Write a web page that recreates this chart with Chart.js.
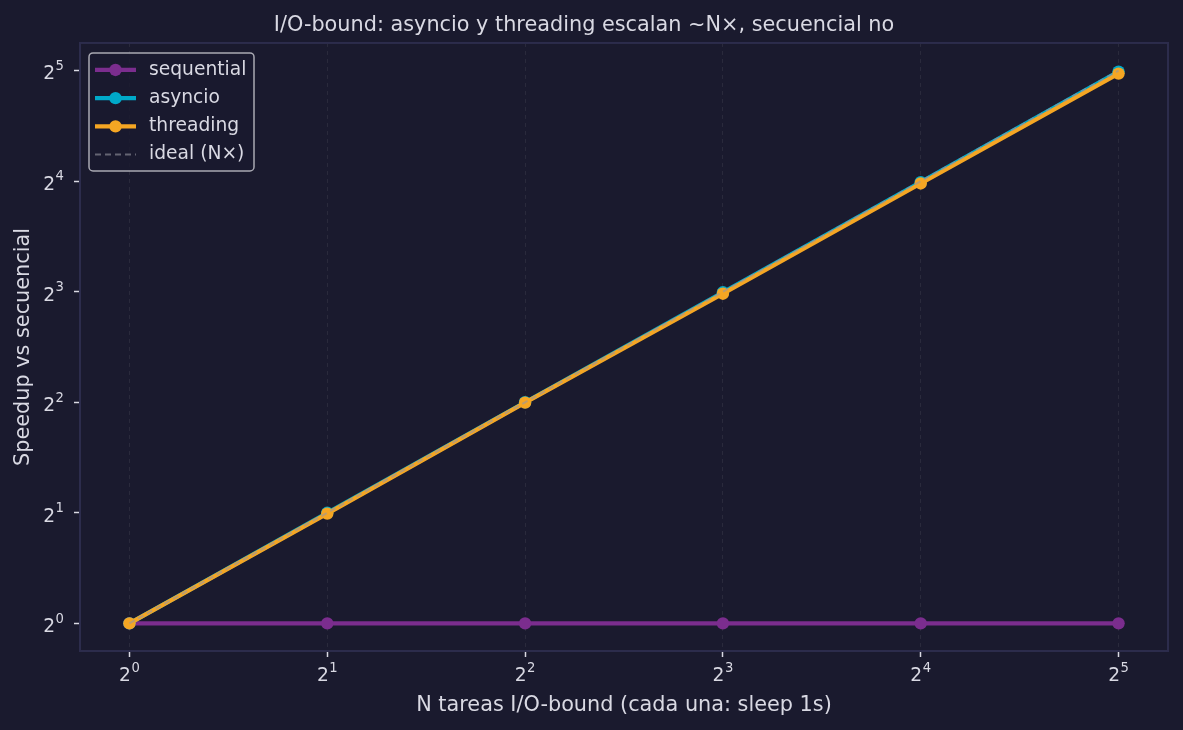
<!DOCTYPE html>
<html>
<head>
<meta charset="utf-8">
<script src="https://cdn.jsdelivr.net/npm/chart.js@4.4.1/dist/chart.umd.min.js"></script>
<style>
  html, body { margin: 0; padding: 0; background: #1a1a2e; }
  canvas { display: block; }
</style>
</head>
<body>
<canvas id="speedChart" width="1183" height="730"></canvas>
<script>
// ===== data =====
const nTasks = [1, 2, 4, 8, 16, 32];
const sequential = [1, 1, 1, 1, 1, 1];
const asyncioSpeedup = [1, 2.0, 4.0, 7.97, 15.9, 31.8];
const threadingSpeedup = [1, 1.99, 3.99, 7.9, 15.77, 31.4];
const idealSpeedup = [1, 2, 4, 8, 16, 32];
const tickValues = [1, 2, 4, 8, 16, 32];

const BG = "#1a1a2e";
const TEXT = "#d9d9e3";
const SPINE = "#2c2c4c";
const FONT = "'DejaVu Sans', sans-serif";

const toPoints = ys => nTasks.map((n, i) => ({ x: n, y: ys[i] }));

// fixed power-of-two ticks
const fixTicks = scale => { scale.ticks = tickValues.map(v => ({ value: v })); };

// background + frame
const framePlugin = {
  id: "frame",
  beforeDraw(chart) {
    const { ctx } = chart;
    ctx.save();
    ctx.fillStyle = BG;
    ctx.fillRect(0, 0, chart.width, chart.height);
    ctx.restore();
  },
  afterDatasetsDraw(chart) {
    const { ctx, chartArea: a } = chart;
    ctx.save();
    ctx.strokeStyle = SPINE;
    ctx.lineWidth = 2;
    ctx.strokeRect(a.left, a.top, a.right - a.left, a.bottom - a.top);
    ctx.restore();
  }
};

// 2^n tick labels with a real raised exponent (like mathtext)
function drawPow(ctx, v, x, baseY, align) {
  const exp = String(Math.round(Math.log2(v)));
  ctx.font = `18.7px ${FONT}`;
  const wb = ctx.measureText("2").width;
  ctx.font = `13.2px ${FONT}`;
  const we = ctx.measureText(exp).width;
  const total = wb + we + 0.5;
  let left = align === "center" ? x - total / 2 : x - total;
  ctx.textAlign = "left";
  ctx.textBaseline = "alphabetic";
  ctx.font = `18.7px ${FONT}`;
  ctx.fillText("2", left, baseY);
  ctx.font = `13.2px ${FONT}`;
  ctx.fillText(exp, left + wb + 0.5, baseY - 9.5);
}

const powTickPlugin = {
  id: "powTicks",
  afterDraw(chart) {
    const { ctx, scales } = chart;
    ctx.save();
    ctx.fillStyle = TEXT;
    scales.x.ticks.forEach(t => {
      const px = scales.x.getPixelForValue(t.value);
      drawPow(ctx, t.value, px, scales.x.top + 30, "center");
    });
    scales.y.ticks.forEach(t => {
      const py = scales.y.getPixelForValue(t.value);
      drawPow(ctx, t.value, scales.y.right - 16, py + 8.8, "right");
    });
    ctx.restore();
  }
};

// matplotlib-like legend box in the upper left
const legendPlugin = {
  id: "boxLegend",
  afterDraw(chart) {
    const { ctx, chartArea: a } = chart;
    const x = a.left + 9, y = a.top + 10, w = 165, h = 118;
    ctx.save();
    ctx.beginPath();
    ctx.roundRect(x, y, w, h, 4);
    ctx.fillStyle = "rgba(26,26,46,0.85)";
    ctx.fill();
    ctx.lineWidth = 1.5;
    ctx.strokeStyle = "#a9a9b3";
    ctx.stroke();

    chart.data.datasets.forEach((ds, i) => {
      const cy = y + 17 + i * 28.2;
      ctx.beginPath();
      ctx.setLineDash(ds.borderDash || []);
      ctx.lineWidth = ds.borderWidth;
      ctx.strokeStyle = ds.borderColor;
      ctx.moveTo(x + 6, cy);
      ctx.lineTo(x + 47, cy);
      ctx.stroke();
      ctx.setLineDash([]);
      if (ds.pointRadius > 0) {
        ctx.beginPath();
        ctx.arc(x + 26.5, cy, ds.pointRadius, 0, Math.PI * 2);
        ctx.fillStyle = ds.pointBackgroundColor;
        ctx.fill();
      }
      ctx.fillStyle = TEXT;
      ctx.font = `18.7px ${FONT}`;
      ctx.textBaseline = "middle";
      ctx.fillText(ds.label, x + 60, cy);
    });
    ctx.restore();
  }
};

const ctx = document.getElementById("speedChart").getContext("2d");
const chart = new Chart(ctx, {
  type: "line",
  data: {
    datasets: [
      {
        label: "sequential",
        data: toPoints(sequential),
        borderColor: "#7b2d8e",
        pointBackgroundColor: "#7b2d8e",
        borderWidth: 4.2,
        pointRadius: 6.2,
        pointBorderWidth: 0,
        order: 4
      },
      {
        label: "asyncio",
        data: toPoints(asyncioSpeedup),
        borderColor: "#00a9c9",
        pointBackgroundColor: "#00a9c9",
        borderWidth: 4.2,
        pointRadius: 6.2,
        pointBorderWidth: 0,
        order: 3
      },
      {
        label: "threading",
        data: toPoints(threadingSpeedup),
        borderColor: "#f5a623",
        pointBackgroundColor: "#f5a623",
        borderWidth: 4.2,
        pointRadius: 6.2,
        pointBorderWidth: 0,
        order: 2
      },
      {
        label: "ideal (N×)",
        data: toPoints(idealSpeedup),
        borderColor: "rgba(150,150,160,0.6)",
        borderDash: [6, 4],
        borderWidth: 2,
        pointRadius: 0,
        order: 1
      }
    ]
  },
  options: {
    responsive: false,
    animation: false,
    devicePixelRatio: 1,
    layout: { padding: { left: 0, right: 15, top: 0, bottom: 0 } },
    elements: { line: { tension: 0 } },
    scales: {
      x: {
        type: "logarithmic",
        min: Math.pow(2, -0.25),
        max: Math.pow(2, 5.25),
        afterBuildTicks: fixTicks,
        afterFit: s => { s.height = 79; },
        grid: {
          color: "rgba(255,255,255,0.07)",
          lineWidth: 1,
          borderDash: [4, 4],
          drawTicks: true,
          tickLength: 6,
          tickColor: TEXT,
          tickWidth: 1.5,
          tickBorderDash: []
        },
        border: { display: false, dash: [4, 4] },
        ticks: {
          color: "rgba(0,0,0,0)",
          font: { family: FONT, size: 18.7 },
          padding: 4,
          maxRotation: 0,
          autoSkip: false
        },
        title: {
          display: true,
          text: "N tareas I/O-bound (cada una: sleep 1s)",
          color: TEXT,
          font: { family: FONT, size: 20.8 },
          padding: { top: 0, bottom: 12 }
        }
      },
      y: {
        type: "logarithmic",
        min: Math.pow(2, -0.25),
        max: Math.pow(2, 5.25),
        afterBuildTicks: fixTicks,
        afterFit: s => { s.width = 80; },
        grid: {
          drawOnChartArea: false,
          drawTicks: true,
          tickLength: 6,
          tickColor: TEXT,
          tickWidth: 1.5
        },
        border: { display: false },
        ticks: {
          color: "rgba(0,0,0,0)",
          font: { family: FONT, size: 18.7 },
          padding: 10,
          autoSkip: false
        },
        title: {
          display: true,
          text: "Speedup vs secuencial",
          color: TEXT,
          font: { family: FONT, size: 20.8 },
          padding: { top: 11, bottom: 0 }
        }
      }
    },
    plugins: {
      legend: { display: false },
      tooltip: { enabled: false },
      title: {
        display: true,
        text: "I/O-bound: asyncio y threading escalan ~N×, secuencial no",
        color: TEXT,
        font: { family: FONT, size: 20.8, weight: "normal" },
        padding: { top: 13, bottom: 5 }
      }
    }
  },
  plugins: [framePlugin, legendPlugin, powTickPlugin]
});
</script>
</body>
</html>
